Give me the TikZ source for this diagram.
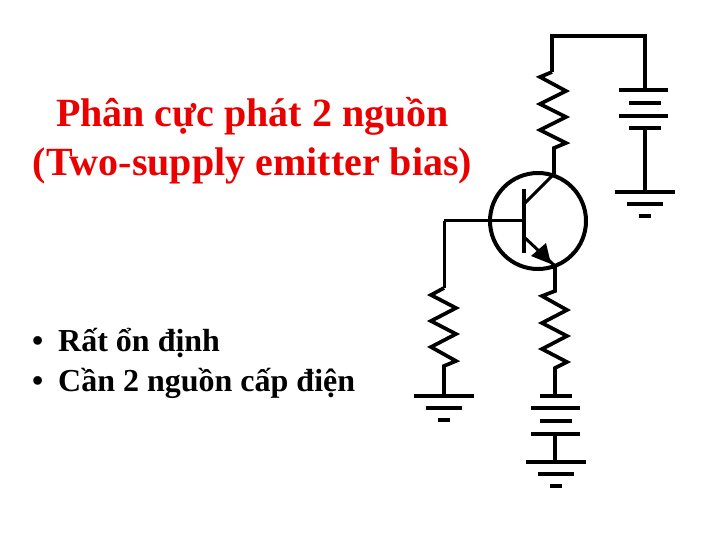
\documentclass[tikz,border=0pt]{standalone}
\usepackage{fontspec}
\setmainfont{Liberation Serif}
\usepackage{tikz}
\definecolor{titlered}{RGB}{235,0,0}
\tikzset{
  wire/.style={line width=3.7pt,line join=miter},
  thin wire/.style={line width=3pt},
  title text/.style={text=titlered,font=\fontsize{40}{40}\selectfont\bfseries,anchor=base},
  item text/.style={font=\fontsize{32}{32}\selectfont\bfseries,anchor=base west,inner sep=0pt}
}
\begin{document}
\begin{tikzpicture}[x=1pt,y=-1pt]
    \useasboundingbox (0,0) rectangle (720,540);
    \node[title text] (title1) at (252.5,127) {Phân cực phát 2 nguồn};
    \node[title text] (title2) at (252.5,176) {(Two-supply emitter bias)};
    \node[item text] (bullet1) at (32,351) {•};
    \node[item text] (item1) at (58,351) {Rất ổn định};
    \node[item text] (bullet2) at (32,391) {•};
    \node[item text] (item2) at (58,391) {Cần 2 nguồn cấp điện};

    \node[draw,circle,line width=4pt,minimum size=96pt,inner sep=0pt] (Q) at (538,221) {};
    \coordinate (base) at (524,221);
    \coordinate (coll) at (554,174);
    \coordinate (emit) at (555,266);
    \coordinate (topL) at (552,36);
    \coordinate (topR) at (645,36);
    \coordinate (baseL) at (444,221);
    \coordinate (gndL) at (444,396);
    \coordinate (battE) at (555,396);
    \coordinate (battV) at (645,90);
    \coordinate (gndV) at (645,192);
    \coordinate (gndE) at (555,462);

    \draw[wire] (524,189) -- (524,253);
    \draw[thin wire] (524,204) -- (coll);
    \draw[thin wire] (524,237) -- (emit);
    \fill (551,264) -- (531,256) -- (546,243) -- cycle;
    \draw[thin wire] (baseL) -- (base);

    \draw[wire] (552,72) -- (topL) -- (topR) -- (battV);
    \draw[wire] (552,72) -- (540,77) -- (566,91) -- (540,104) -- (566,117) -- (540,130) -- (566,143) -- (554,148) -- (coll);
    \draw[thin wire] (baseL) -- (444,288);
    \draw[wire] (444,288) -- (431,295) -- (456,308) -- (431,321) -- (456,334) -- (431,347) -- (456,361) -- (444,366) -- (gndL);
    \draw[wire] (emit) -- (555,291) -- (542,296) -- (567,310) -- (542,323) -- (567,336) -- (542,349) -- (567,362) -- (555,368) -- (battE);

    \draw[wire] (619,90) -- (668,90);
    \draw[wire] (629,103) -- (661,103);
    \draw[wire] (619,116) -- (668,116);
    \draw[wire] (629,128) -- (661,128);
    \draw[wire] (645,128) -- (gndV);

    \draw[wire] (540,396) -- (572,396);
    \draw[wire] (531,408) -- (580,408);
    \draw[wire] (540,421) -- (572,421);
    \draw[wire] (531,434) -- (580,434);
    \draw[wire] (555,434) -- (gndE);

    \foreach \gx/\gy in {645/192,444/396,556/462}{
        \draw[wire] (\gx-30,\gy) -- (\gx+30,\gy);
        \draw[wire] (\gx-18,\gy+12) -- (\gx+18,\gy+12);
        \draw[wire] (\gx-6,\gy+24) -- (\gx+6,\gy+24);
    }
\end{tikzpicture}
\end{document}
